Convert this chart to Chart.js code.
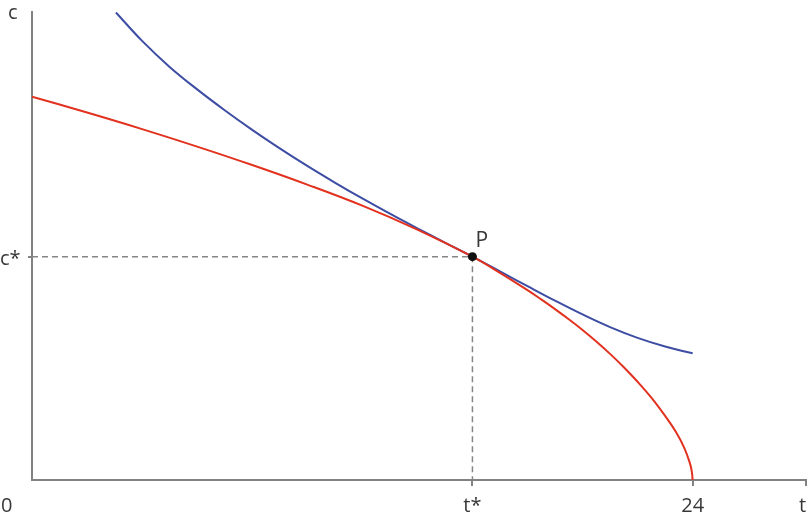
<!DOCTYPE html>
<html>
<head>
<meta charset="utf-8">
<script src="https://cdn.jsdelivr.net/npm/chart.js@4.4.1/dist/chart.umd.min.js"></script>
<style>
  html, body { margin: 0; padding: 0; background: #ffffff; }
  #wrap { width: 810px; height: 518px; }
</style>
</head>
<body>
<div id="wrap"><canvas id="c" width="810" height="518"></canvas></div>
<script>
// Red curve (production possibility frontier)
const tRed = [0, 2, 4, 6, 8, 10, 12, 14, 16, 17, 18, 18.5, 19, 19.5, 20, 20.5, 21, 21.5, 22, 22.5, 23, 23.4, 23.7, 23.9, 23.97, 24];
const cRed = [81.9, 78.52, 74.98, 71.24, 67.30, 63.12, 58.62, 53.5, 47.72, 44.27, 40.57, 38.58, 36.52, 34.35, 32.07, 29.6, 26.95, 24.1, 21.0, 17.6, 13.69, 10.2, 6.8, 3.6, 1.8, 0];

// Blue curve (indifference curve)
const tBlue = [3.05, 4, 5, 6, 7, 8, 9, 10, 11, 12, 13, 14, 15, 16, 17, 18, 19, 20, 21, 22, 23, 24];
const cBlue = [99.9, 93.82, 88.26, 83.46, 79.01, 74.81, 70.86, 67.11, 63.56, 60.16, 56.91, 53.79, 50.74, 47.72, 44.57, 41.42, 38.32, 35.37, 32.67, 30.37, 28.52, 27.07];

// Tangency point P
const tStar = 16;
const cStar = 47.72;

// Axis ranges and tick labels
const xMax = 28.1;
const yMax = 100;
const xTickValues = [tStar, 24, xMax];
const xTickLabels = ['t*', '24', 't'];
const yTickValues = [cStar];
const yTickLabels = ['c*'];

const toPts = (xs, ys) => xs.map((x, i) => ({ x: x, y: ys[i] }));

const AXIS = '#828282';
const TEXT = '#383838';
const FONT = '20px "Open Sans", "Noto Sans", sans-serif';

const labelPlugin = {
  id: 'labels',
  afterDraw(chart) {
    const ctx = chart.ctx;
    const xs = chart.scales.x, ys = chart.scales.y;
    ctx.save();
    ctx.fillStyle = TEXT;
    ctx.font = FONT;
    ctx.textBaseline = 'alphabetic';
    const base = ys.getPixelForValue(0) + 32;
    ctx.textAlign = 'center';
    xTickValues.forEach((v, i) => {
      let px = xs.getPixelForValue(v);
      if (i === xTickValues.length - 1) px -= 3;
      ctx.fillText(xTickLabels[i], px, base);
    });
    ctx.textAlign = 'left';
    ctx.fillText('0', 1, base);
    yTickValues.forEach((v, i) => {
      ctx.fillText(yTickLabels[i], 0, ys.getPixelForValue(v) + 8);
    });
    ctx.fillText('c', 8, ys.getPixelForValue(yMax) + 7);
    ctx.font = '21px "Open Sans", "Noto Sans", sans-serif';
    ctx.fillText('P', xs.getPixelForValue(tStar) + 3, ys.getPixelForValue(cStar) - 10);
    ctx.restore();
  }
};

new Chart(document.getElementById('c'), {
  type: 'line',
  data: {
    datasets: [
      {
        label: 'P',
        data: [{ x: tStar, y: cStar }],
        showLine: false,
        pointRadius: 4.5,
        pointBackgroundColor: '#111111',
        pointBorderColor: '#111111',
        pointBorderWidth: 0
      },
      {
        label: 'frontier',
        data: toPts(tRed, cRed),
        borderColor: '#e2321f',
        borderWidth: 2,
        pointRadius: 0,
        fill: false,
        tension: 0.4
      },
      {
        label: 'indifference',
        data: toPts(tBlue, cBlue),
        borderColor: '#3d4da3',
        borderWidth: 2,
        pointRadius: 0,
        fill: false,
        tension: 0.4
      },
      {
        label: 'guides',
        data: [{ x: 0, y: cStar }, { x: tStar, y: cStar }, { x: tStar, y: 0 }],
        borderColor: '#858585',
        borderWidth: 1.5,
        borderDash: [6, 4],
        pointRadius: 0,
        fill: false,
        tension: 0
      }
    ]
  },
  options: {
    responsive: false,
    animation: false,
    events: [],
    layout: { padding: { top: 12, right: 3, left: 0, bottom: 0 } },
    plugins: {
      legend: { display: false },
      tooltip: { enabled: false },
      title: { display: false }
    },
    scales: {
      x: {
        type: 'linear',
        min: 0,
        max: xMax,
        afterBuildTicks: (s) => { s.ticks = xTickValues.map(v => ({ value: v })); },
        afterFit: (s) => { s.height = 38; },
        ticks: { display: false },
        grid: { display: true, drawOnChartArea: false, drawTicks: true, tickLength: 6, color: AXIS, lineWidth: 2 },
        border: { display: true, color: AXIS, width: 2 }
      },
      y: {
        type: 'linear',
        min: 0,
        max: yMax,
        afterBuildTicks: (s) => { s.ticks = yTickValues.map(v => ({ value: v })); },
        afterFit: (s) => { s.width = 32; },
        ticks: { display: false },
        grid: { display: true, drawOnChartArea: false, drawTicks: true, tickLength: 4, color: AXIS, lineWidth: 2 },
        border: { display: true, color: AXIS, width: 2 }
      }
    }
  },
  plugins: [labelPlugin]
});
</script>
</body>
</html>
